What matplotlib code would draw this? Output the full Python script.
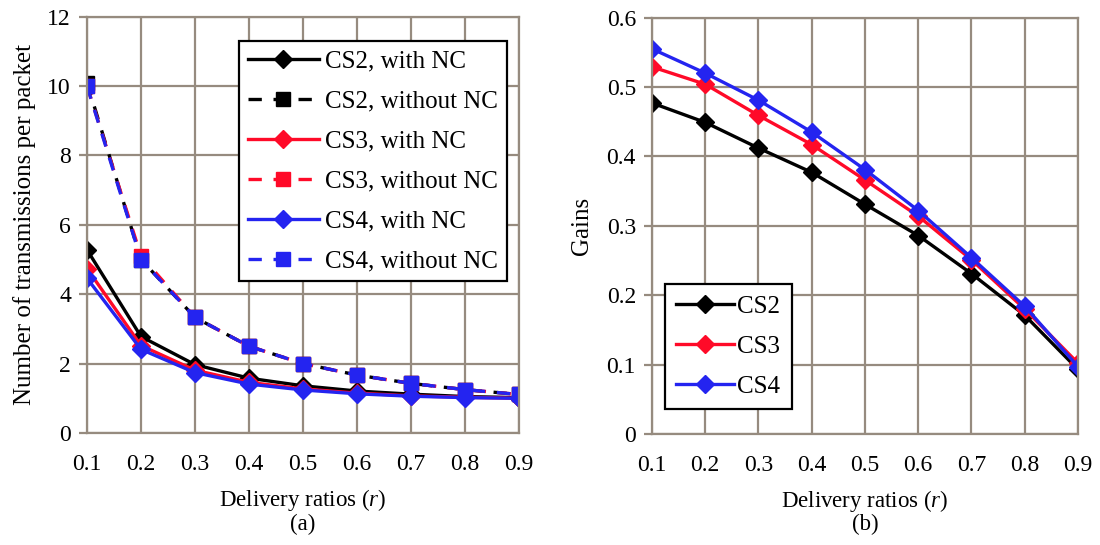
import matplotlib.pyplot as plt

plt.rcParams['font.family'] = ['Liberation Serif', 'DejaVu Serif']
plt.rcParams['mathtext.fontset'] = 'custom'
plt.rcParams['mathtext.it'] = 'Liberation Serif:italic'
plt.rcParams['mathtext.rm'] = 'Liberation Serif'

# delivery ratios
r = [0.1, 0.2, 0.3, 0.4, 0.5, 0.6, 0.7, 0.8, 0.9]

# (a) transmissions per packet
cs2_nc = [5.28, 2.78, 1.97, 1.58, 1.36, 1.21, 1.12, 1.05, 1.02]
cs2_no = [10.1, 5.0, 3.33, 2.5, 2.0, 1.67, 1.43, 1.25, 1.11]
cs3_nc = [4.74, 2.52, 1.81, 1.46, 1.27, 1.15, 1.07, 1.03, 1.0]
cs3_no = [10.0, 5.1, 3.33, 2.5, 2.0, 1.67, 1.43, 1.25, 1.11]
cs4_nc = [4.46, 2.41, 1.74, 1.41, 1.24, 1.13, 1.06, 1.02, 1.0]
cs4_no = [10.0, 5.0, 3.33, 2.5, 2.0, 1.67, 1.43, 1.25, 1.11]

# (b) gains
gain_cs2 = [0.477, 0.449, 0.412, 0.377, 0.331, 0.286, 0.231, 0.171, 0.093]
gain_cs3 = [0.529, 0.504, 0.459, 0.417, 0.366, 0.314, 0.251, 0.180, 0.102]
gain_cs4 = [0.555, 0.520, 0.481, 0.435, 0.381, 0.322, 0.254, 0.184, 0.097]

grid_col = '#968b7f'
red = '#ff0a28'
blue = '#2424f0'
lw = 2.4
dash = (0, (4, 3.5))
fs_tick = 17
fs_lab = 16.5

fig = plt.figure(figsize=(11, 5.45), dpi=100)
ax1 = fig.add_axes([0.0791, 0.2055, 0.3927, 0.764])
ax2 = fig.add_axes([0.5927, 0.2037, 0.3873, 0.764])


def style(ax, ylim, yticks, ylabels):
    ax.set_xlim(0.1, 0.9)
    ax.set_ylim(*ylim)
    ax.set_xticks(r)
    ax.set_xticklabels([str(v) for v in r])
    ax.set_yticks(yticks)
    ax.set_yticklabels(ylabels)
    ax.grid(True, color=grid_col, lw=1.6)
    ax.set_axisbelow(True)
    for s in ax.spines.values():
        s.set_color(grid_col)
        s.set_linewidth(1.6)
    ax.tick_params(axis='y', length=5.5, width=1.6, color=grid_col, labelsize=fs_tick, pad=6)
    ax.tick_params(axis='x', length=0, labelsize=fs_tick, pad=15)
    ax.set_xlabel('Delivery ratios ($r$)', fontsize=fs_lab, labelpad=9)


style(ax1, (0, 12), range(0, 13, 2), [str(v) for v in range(0, 13, 2)])
ax1.plot(r, cs2_nc, color='black', lw=lw, marker='D', ms=9.5, label='CS2, with NC')
ax1.plot(r, cs2_no, color='black', lw=lw, ls=dash, marker='s', ms=9.5, label='CS2, without NC')
ax1.plot(r, cs3_nc, color=red, lw=lw, marker='D', ms=9.5, label='CS3, with NC')
ax1.plot(r, cs3_no, color=red, lw=lw, ls=dash, marker='s', ms=9.5, label='CS3, without NC')
ax1.plot(r, cs4_nc, color=blue, lw=lw, marker='D', ms=9.5, label='CS4, with NC')
ax1.plot(r, cs4_no, color=blue, lw=lw, ls=dash, marker='s', ms=9.5, label='CS4, without NC')
ax1.set_ylabel('Number of transmissions per packet', fontsize=18, labelpad=8)
leg1 = ax1.legend(loc='upper right', bbox_to_anchor=(0.972, 0.941), fontsize=18,
                  fancybox=False, framealpha=1, edgecolor='black',
                  handlelength=2.85, handletextpad=0.25, labelspacing=0.7,
                  borderpad=0.35, borderaxespad=0)
leg1.get_frame().set_linewidth(1.6)

yt2 = [0, 0.1, 0.2, 0.3, 0.4, 0.5, 0.6]
style(ax2, (0, 0.6), yt2, ['0', '0.1', '0.2', '0.3', '0.4', '0.5', '0.6'])
ax2.plot(r, gain_cs2, color='black', lw=lw, marker='D', ms=9.5, label='CS2')
ax2.plot(r, gain_cs3, color=red, lw=lw, marker='D', ms=9.5, label='CS3')
ax2.plot(r, gain_cs4, color=blue, lw=lw, marker='D', ms=9.5, label='CS4')
ax2.set_ylabel('Gains', fontsize=18, labelpad=10)
leg2 = ax2.legend(loc='lower left', bbox_to_anchor=(0.0305, 0.06), fontsize=18,
                  fancybox=False, framealpha=1, edgecolor='black',
                  handlelength=2.3, handletextpad=0.15, labelspacing=0.7,
                  borderpad=0.45, borderaxespad=0)
leg2.get_frame().set_linewidth(1.6)

fig.text(0.2755, 0.027, '(a)', ha='center', fontsize=fs_lab)
fig.text(0.787, 0.027, '(b)', ha='center', fontsize=fs_lab)

fig.savefig('out.png', dpi=100)
